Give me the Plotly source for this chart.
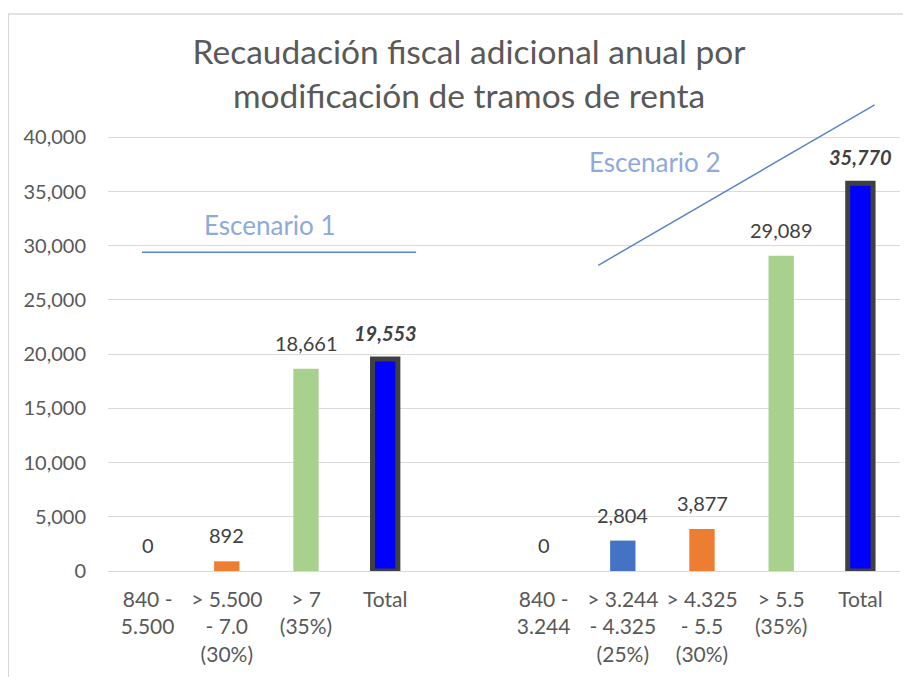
import plotly.graph_objects as go

# ---------------- data ----------------
tick_labels = [
    "840 -<br>5.500",
    "> 5.500<br>- 7.0<br>(30%)",
    "> 7<br>(35%)",
    "Total",
    "",
    "840 -<br>3.244",
    "> 3.244<br>- 4.325<br>(25%)",
    "> 4.325<br>- 5.5<br>(30%)",
    "> 5.5<br>(35%)",
    "Total",
]
values = [0, 892, 18661, 19553, None, 0, 2804, 3877, 29089, 35770]
label_texts = ["0", "892", "18,661", "<b><i>19,553</i></b>", None,
               "0", "2,804", "3,877", "29,089", "<b><i>35,770</i></b>"]
bar_colors = ["#ED7D31", "#ED7D31", "#A9D18E", "#0000FF", "#FFFFFF",
              "#4472C4", "#4472C4", "#ED7D31", "#A9D18E", "#0000FF"]
is_total = [False, False, False, True, False, False, False, False, False, True]

title_lines = ["Recaudación fiscal adicional anual por",
               "modificación de tramos de renta"]
scenario_names = ["Escenario 1", "Escenario 2"]
scenario_label_pos = [(1.55, 31900), (6.41, 37700)]
scenario_lines = [((-0.07, 29400), (3.39, 29400)),
                  ((5.69, 28200), (9.18, 43000))]
y_ticks = [0, 5000, 10000, 15000, 20000, 25000, 30000, 35000, 40000]

# ---------------- figure ----------------
FONT = "Lato"
W, H = 903, 669
x_pos = list(range(len(tick_labels)))

fig = go.Figure()
fig.add_trace(go.Bar(
    x=x_pos,
    y=values,
    width=0.32,
    marker=dict(
        color=bar_colors,
        line=dict(color=["#404040" if t else "rgba(0,0,0,0)" for t in is_total],
                  width=[5 if t else 0 for t in is_total]),
    ),
    hoverinfo="skip",
    showlegend=False,
))

annotations = []
for x, v, t in zip(x_pos, values, label_texts):
    if v is None:
        continue
    annotations.append(dict(
        x=x, y=v, xref="x", yref="y", text=t, showarrow=False,
        yanchor="middle", yshift=26,
        font=dict(family=FONT, size=20, color="#404040"),
    ))

for name, (sx, sy) in zip(scenario_names, scenario_label_pos):
    annotations.append(dict(
        x=sx, y=sy, xref="x", yref="y", text=name, showarrow=False,
        yanchor="middle",
        font=dict(family=FONT, size=26, color="#8EA9DB"),
    ))

# second title line
annotations.append(dict(
    x=0.4558, y=0.998, xref="paper", yref="paper", text=title_lines[1],
    showarrow=False, yanchor="middle",
    font=dict(family=FONT, size=33.5, color="#595959"),
))

shapes = []
for (p0, p1) in scenario_lines:
    shapes.append(dict(type="line", xref="x", yref="y",
                       x0=p0[0], y0=p0[1], x1=p1[0], y1=p1[1],
                       line=dict(color="#5B84CF", width=1.5)))
# chart area border
shapes.append(dict(type="rect", xref="paper", yref="paper",
                   x0=-0.1256, x1=1.2, y0=-0.5, y1=1.1677,
                   line=dict(color="#D9D9D9", width=1.3), layer="below"))

fig.update_layout(
    width=W, height=H,
    margin=dict(l=100, r=11, t=86, b=106),
    paper_bgcolor="white", plot_bgcolor="white",
    title=dict(text=title_lines[0], x=461 / W, xanchor="center",
               xref="container", yref="container", y=1 - 44 / H,
               yanchor="middle",
               font=dict(family=FONT, size=33.5, color="#595959")),
    annotations=annotations,
    shapes=shapes,
    xaxis=dict(
        range=[-0.5, 9.5], tickmode="array", tickvals=x_pos, ticktext=tick_labels,
        showgrid=False, zeroline=False, showline=False, ticks="",
        ticklabelstandoff=14,
        tickfont=dict(family=FONT, size=21, color="#595959"),
    ),
    yaxis=dict(
        range=[0, 44000], tickmode="array", tickvals=y_ticks,
        tickformat=",d", showgrid=True, gridcolor="#D9D9D9", gridwidth=1,
        zeroline=True, zerolinecolor="#D9D9D9", zerolinewidth=1,
        showline=False, ticks="", ticklabelstandoff=21,
        tickfont=dict(family=FONT, size=20, color="#595959"),
    ),
)

fig.write_html("out.html")
